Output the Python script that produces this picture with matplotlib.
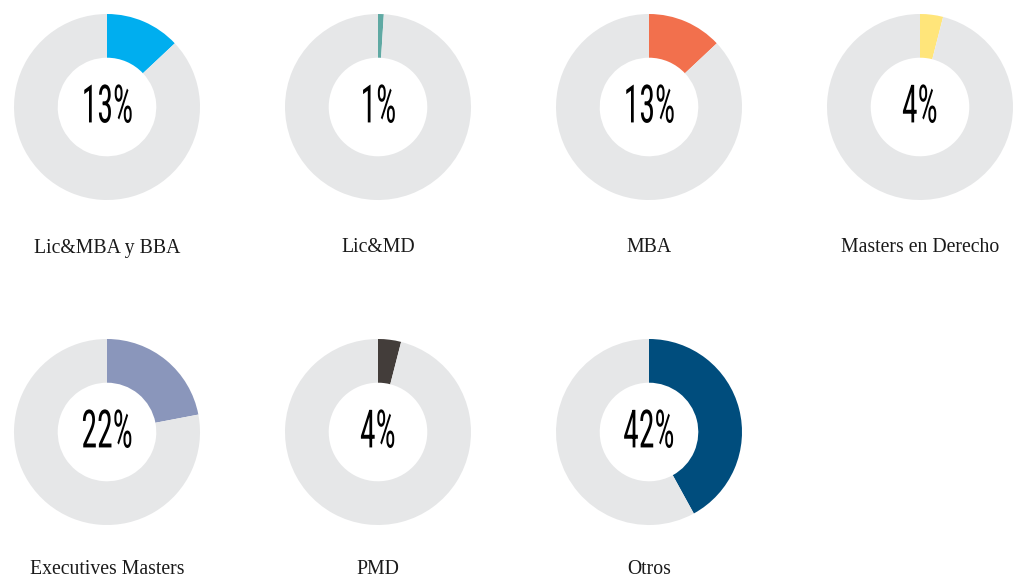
import matplotlib
matplotlib.use("Agg")
import matplotlib.pyplot as plt
from matplotlib.patheffects import AbstractPathEffect
from matplotlib.transforms import Affine2D

# Datos
programas = ["Lic&MBA y BBA", "Lic&MD", "MBA", "Masters en Derecho",
             "Executives Masters", "PMD", "Otros"]
porcentajes = [13, 1, 13, 4, 22, 4, 42]
colores = ["#00aeef", "#5fa9a3", "#f2704d", "#ffe57a",
           "#8a96bb", "#433d3a", "#004d7d"]
gris = "#e6e7e8"


class Estrechar(AbstractPathEffect):
    """Comprime el texto en horizontal alrededor de su centro."""

    def __init__(self, factor):
        super().__init__()
        self.factor = factor

    def draw_path(self, renderer, gc, tpath, affine, rgbFace=None):
        ext = tpath.get_extents(affine)
        cx = (ext.x0 + ext.x1) / 2
        nuevo = affine + Affine2D().translate(-cx, 0).scale(self.factor, 1).translate(cx, 0)
        renderer.draw_path(gc, tpath, nuevo, rgbFace)


W, H = 1014, 578
fig = plt.figure(figsize=(W / 100, H / 100), dpi=100)
fig.patch.set_facecolor("white")

# posiciones en pixeles (centro de cada anillo)
centros_x = [107, 378, 649, 920]
centros_y = [107, 432]
etiqueta_y = [248, 570]
radio = 93

for i, (nombre, pct, col) in enumerate(zip(programas, porcentajes, colores)):
    fila, columna = divmod(i, 4)
    cx = centros_x[columna]
    cy = centros_y[fila]
    ax = fig.add_axes([(cx - radio) / W, 1 - (cy + radio) / H,
                       2 * radio / W, 2 * radio / H])
    ax.pie([pct, 100 - pct], colors=[col, gris], startangle=90,
           counterclock=False, radius=1,
           wedgeprops=dict(width=0.47, edgecolor="none", linewidth=0))
    ax.set_xlim(-1, 1)
    ax.set_ylim(-1, 1)
    ax.set_aspect("equal")
    ax.axis("off")
    ax.text(0, -0.01, f"{pct}%", ha="center", va="center", fontsize=38,
            family=["DejaVu Sans Condensed", "Liberation Sans Narrow",
                    "Roboto Condensed", "DejaVu Sans"],
            fontstretch="condensed", fontweight="normal", color="black",
            path_effects=[Estrechar(0.6)])
    fig.text(cx / W, 1 - etiqueta_y[fila] / H, nombre, ha="center",
             va="center", fontsize=14.2, family="Liberation Serif",
             color="#1a1a1a")

fig.savefig("out.png", dpi=100, facecolor="white")
